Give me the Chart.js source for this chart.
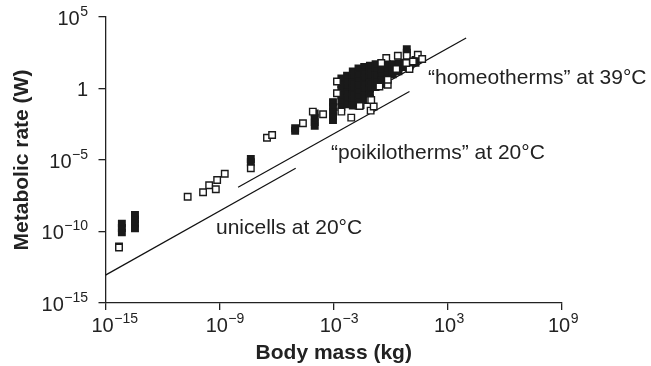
<!DOCTYPE html>
<html><head><meta charset="utf-8">
<script src="https://cdn.jsdelivr.net/npm/chart.js@4.4.0/dist/chart.umd.min.js"></script>
<style>html,body{margin:0;padding:0;background:#fff;}canvas{display:block}</style>
</head><body>
<canvas id="c" width="651" height="366"></canvas>
<script>
// ---- data (log10 values) ----
const xTickExp = [-15, -9, -3, 3, 9];
const yTickExp = [-15, -10, -5, 0, 5];

// open squares (white fill)
const openMassExp = [-14.29,-14.29,-10.68,-9.87,-9.55,-9.2,-9.13,-8.73,-7.36,-6.51,-6.24,
  -4.62,-4.1,-3.56,-2.6,-2.08,-1.59,-1.06,-0.9,-1.12,-0.16,-2.83,-2.83,-1.03,-1.64,
  -0.24,0.37,0.84,1.42,1.65,1.16,-0.5,0.29,0.98,-0.16,-0.6,0.81];
const openRateExp = [-11.05,-11.12,-7.57,-7.26,-6.77,-7.05,-6.40,-5.96,-5.58,-3.44,-3.25,
  -2.43,-1.62,-1.8,-1.62,-2.04,-1.15,-1.55,-1.26,-0.8,0.26,0.49,-0.33,-0.8,-1.22,
  2.13,2.29,2.29,2.36,2.06,1.89,1.78,1.36,1.36,0.61,0.14,1.78];

// overlapping squares that merge into solid black
const denseMassExp = [-14.14,-14.14,-14.14,-13.45,-13.45,-13.45,-13.45,-7.36,-7.36,-5.03,-5.03,
  -4.0,-4.0,-4.0,-4.0,-3.04,-3.04,-3.04,-3.04,-3.04,
  -2.6,-2.6,-2.6,-2.6,-2.6,-2.6,
  -2.3,-2.3,-2.3,-2.3,-2.3,-2.3,
  -2.0,-2.0,-2.0,-2.0,-2.0,-2.0,-2.0,
  -1.7,-1.7,-1.7,-1.7,-1.7,-1.7,-1.7,-1.7,
  -1.4,-1.4,-1.4,-1.4,-1.4,-1.4,-1.4,
  -1.1,-1.1,-1.1,-1.1,-1.1,-1.1,-1.1,
  -0.8,-0.8,-0.8,-0.8,-0.8,
  -0.5,-0.5,-0.5,-0.5,-0.5,
  -0.2,-0.2,-0.2,-0.2,
  0.1,0.1,0.1,
  0.4,0.4,0.4,
  0.7,0.7,
  1.0,1.0,
  1.3,1.3,
  0.84,0.84];
const denseRateExp = [-9.45,-9.75,-10.06,-8.85,-9.15,-9.45,-9.78,-4.93,-5.16,-2.78,-2.95,
  -1.75,-2.05,-2.35,-2.6,-0.95,-1.3,-1.65,-1.95,-2.2,
  0.7,0.3,-0.1,-0.5,-0.9,-1.3,
  0.9,0.5,0.1,-0.3,-0.7,-1.1,
  1.2,0.8,0.4,0,-0.4,-0.8,-1.2,
  1.4,1.0,0.6,0.2,-0.2,-0.6,-0.9,-1.2,
  1.5,1.1,0.7,0.3,-0.1,-0.5,-0.8,
  1.6,1.2,0.8,0.4,0,-0.4,-0.7,
  1.7,1.3,0.9,0.5,0.1,
  1.75,1.35,0.95,0.55,0.3,
  1.7,1.3,0.9,0.6,
  1.7,1.3,1.0,
  1.75,1.4,1.2,
  1.8,1.5,
  1.9,1.6,
  2.0,1.8,
  2.75,2.5];

// scaling lines (end points)
const unicellLineMass = [-15, -5.0];
const unicellLineRate = [-13.05, -5.58];
const poikiloLineMass = [-8.03, 0.98];
const poikiloLineRate = [-6.91, -0.21];
const homeoLineMass = [-2.0, 3.96];
const homeoLineRate = [-0.9, 3.53];

const labels = [
  {text: '\u201chomeotherms\u201d at 39\u00b0C', x: 428, y: 84},
  {text: '\u201cpoikilotherms\u201d at 20\u00b0C', x: 331, y: 159},
  {text: 'unicells at 20\u00b0C', x: 216, y: 234}
];
const xTitle = 'Body mass (kg)';
const yTitle = 'Metabolic rate (W)';

// ---- build ----
const pts = (m, r) => m.map((v, i) => ({x: Math.pow(10, v), y: Math.pow(10, r[i])}));
const fam = '"Liberation Sans", Arial, Helvetica, sans-serif';
const ink = '#222';
const supStr = e => (e < 0 ? '\u2212' : '') + Math.abs(e);

const textPlugin = {
  id: 'textPlugin',
  afterDraw(chart) {
    const ctx = chart.ctx, xs = chart.scales.x, ys = chart.scales.y;
    ctx.save();
    ctx.fillStyle = ink;
    ctx.textBaseline = 'alphabetic';
    const base = chart.chartArea.bottom;
    xTickExp.forEach(e => {
      const px = xs.getPixelForValue(Math.pow(10, e));
      ctx.font = '20px ' + fam; ctx.textAlign = 'left';
      const x0 = px - 14;
      ctx.fillText('10', x0, base + 29);
      const w = ctx.measureText('10').width;
      ctx.font = '14px ' + fam;
      ctx.fillText(supStr(e), x0 + w + 0.5, base + 20);
    });
    yTickExp.forEach(e => {
      const py = ys.getPixelForValue(Math.pow(10, e));
      const right = 88;
      ctx.textAlign = 'right';
      if (e === 0) {
        ctx.font = '20px ' + fam;
        ctx.fillText('1', right, py + 7.5);
      } else {
        ctx.font = '14px ' + fam;
        const s = supStr(e);
        const ws = ctx.measureText(s).width;
        ctx.fillText(s, right, py - 1.5);
        ctx.font = '20px ' + fam;
        ctx.fillText('10', right - ws - 0.5, py + 7.5);
      }
    });
    ctx.font = '21px ' + fam;
    ctx.textAlign = 'left';
    labels.forEach(l => ctx.fillText(l.text, l.x, l.y));
    ctx.font = 'bold 21px ' + fam;
    ctx.textAlign = 'center';
    ctx.textBaseline = 'middle';
    ctx.fillText(xTitle, (xs.left + xs.right) / 2, 353);
    ctx.translate(22, (ys.top + ys.bottom) / 2);
    ctx.rotate(-Math.PI / 2);
    ctx.fillText(yTitle, 0, 0);
    ctx.restore();
  }
};

const lineDs = (m, r) => ({
  data: pts(m, r), showLine: true, pointRadius: 0, borderColor: '#111',
  borderWidth: 1.2, fill: false, order: 3
});

new Chart(document.getElementById('c'), {
  type: 'scatter',
  data: {
    datasets: [
      {data: pts(openMassExp, openRateExp), pointStyle: 'rect', pointRadius: 4.6,
        pointBorderWidth: 1.4, pointBorderColor: '#1a1a1a', pointBackgroundColor: '#fff', order: 1},
      {data: pts(denseMassExp, denseRateExp), pointStyle: 'rect', pointRadius: 4.6,
        pointBorderWidth: 1.4, pointBorderColor: '#1a1a1a', pointBackgroundColor: '#1a1a1a', order: 2},
      lineDs(unicellLineMass, unicellLineRate),
      lineDs(poikiloLineMass, poikiloLineRate),
      lineDs(homeoLineMass, homeoLineRate)
    ]
  },
  options: {
    responsive: false, animation: false, devicePixelRatio: 1,
    layout: {padding: {left: 0, top: 17, right: 89, bottom: 0}},
    plugins: {legend: {display: false}, tooltip: {enabled: false}},
    scales: {
      x: {
        type: 'logarithmic', min: 1e-15, max: 1e9,
        afterBuildTicks: s => { s.ticks = xTickExp.map(e => ({value: Math.pow(10, e)})); },
        afterFit: s => { s.height = 63; },
        ticks: {display: false},
        grid: {display: true, drawOnChartArea: false, drawTicks: true, tickLength: 7, color: ink, lineWidth: 1.3},
        border: {display: true, color: ink, width: 1.3}
      },
      y: {
        type: 'logarithmic', min: 1e-15, max: 1e5,
        afterBuildTicks: s => { s.ticks = yTickExp.map(e => ({value: Math.pow(10, e)})); },
        afterFit: s => { s.width = 105.5; },
        ticks: {display: false},
        grid: {display: true, drawOnChartArea: false, drawTicks: true, tickLength: 7, color: ink, lineWidth: 1.3},
        border: {display: true, color: ink, width: 1.3}
      }
    }
  },
  plugins: [textPlugin]
});
</script>
</body></html>
